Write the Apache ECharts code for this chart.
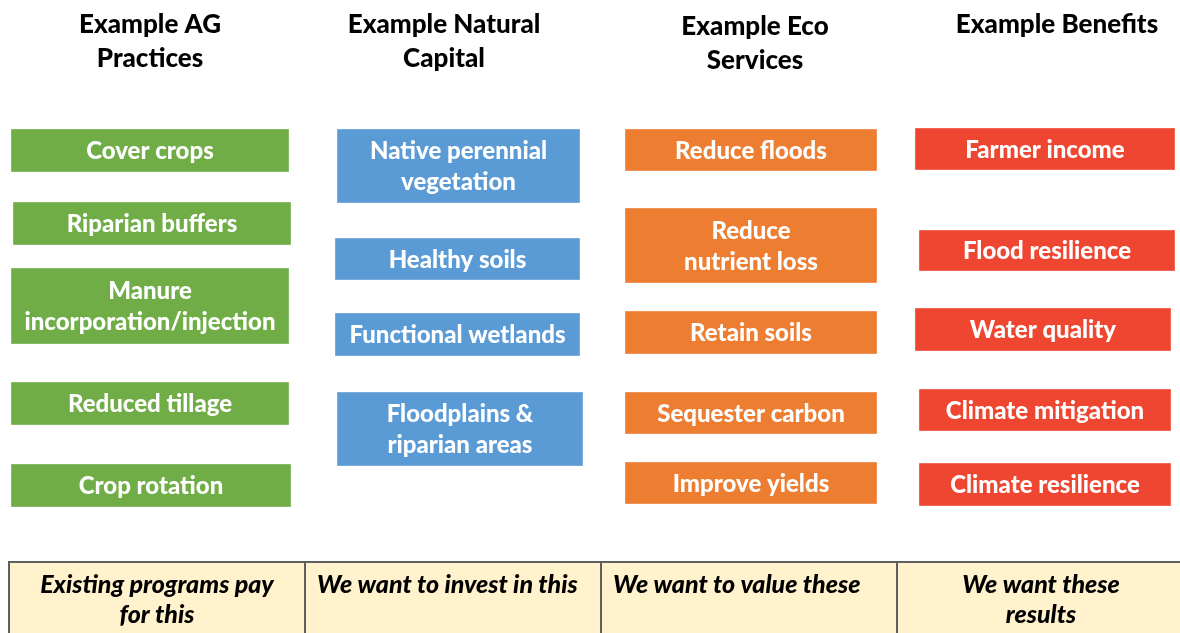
<!DOCTYPE html>
<html>
<head>
<meta charset="utf-8">
<script src="https://cdn.jsdelivr.net/npm/echarts@6/dist/echarts.min.js"></script>
<style>
html,body{margin:0;padding:0;background:#fff;}
#chart{width:1180px;height:633px;}
</style>
</head>
<body>
<div id="chart"></div>
<script>
// ---------- DATA ----------
var headers = ['Example AG\nPractices', 'Example Natural\nCapital', 'Example Eco\nServices', 'Example Benefits'];
var practices = ['Cover crops', 'Riparian buffers', 'Manure\nincorporation/injection', 'Reduced tillage', 'Crop rotation'];
var naturalCapital = ['Native perennial\nvegetation', 'Healthy soils', 'Functional wetlands', 'Floodplains &\nriparian areas'];
var ecoServices = ['Reduce floods', 'Reduce\nnutrient loss', 'Retain soils', 'Sequester carbon', 'Improve yields'];
var benefits = ['Farmer income', 'Flood resilience', 'Water quality', 'Climate mitigation', 'Climate resilience'];
var footer = ['Existing programs pay\nfor this', 'We want to invest in this', 'We want to value these', 'We want these\nresults'];

// box extents: [left, right, top, bottom] on a 1180 x 633 scale
var practiceSpans = [[11,289,129,172],[13,291,202,245],[11,289,268,344],[11,289,382,425],[11,291,464,507]];
var naturalSpans = [[337,580,129,203],[335,580,238,280],[335,580,313,356],[337,583,392,466]];
var ecoSpans = [[625,877,129,171],[625,877,208,283],[625,877,311,354],[625,877,392,434],[625,877,462,504]];
var benefitSpans = [[915,1175,128,170],[919,1175,230,271],[915,1171,308,351],[919,1171,389,431],[919,1171,463,506]];
var footerSpans = [[9,305,562,640],[305,601,562,640],[601,897,562,640],[897,1185,562,640]];

// ---------- LAYOUT / STYLE ----------
var headerAnchors = [[150,8],[444,8],[755,10],[1057,8]];
var footerAlign = ['center','left','left','center'];
var colors = ['#70AD47','#5B9BD5','#ED7D31','#EE4631'];
var FONT = 'Lato, "Open Sans", sans-serif';

function boxSeries(labels, spans, color) {
  return {
    type: 'custom',
    coordinateSystem: 'cartesian2d',
    data: spans,
    silent: true,
    renderItem: function (params, api) {
      var p0 = api.coord([api.value(0), api.value(2)]);
      var p1 = api.coord([api.value(1), api.value(3)]);
      return {
        type: 'group',
        children: [
          { type: 'rect', shape: { x: p0[0], y: p0[1], width: p1[0] - p0[0], height: p1[1] - p0[1] },
            style: { fill: color, stroke: 'rgba(255,255,255,0.35)', lineWidth: 1 } },
          { type: 'text', style: { text: labels[params.dataIndex], x: (p0[0] + p1[0]) / 2, y: (p0[1] + p1[1]) / 2 + 1,
              align: 'center', verticalAlign: 'middle', fill: '#ffffff', font: '900 24px ' + FONT, lineHeight: 31 } }
        ]
      };
    }
  };
}

var footerSeries = {
  type: 'custom',
  coordinateSystem: 'cartesian2d',
  data: footerSpans,
  silent: true,
  renderItem: function (params, api) {
    var p0 = api.coord([api.value(0), api.value(2)]);
    var p1 = api.coord([api.value(1), api.value(3)]);
    var i = params.dataIndex;
    var al = footerAlign[i];
    var tx = al === 'center' ? (p0[0] + p1[0]) / 2 : p0[0] + 12;
    return {
      type: 'group',
      children: [
        { type: 'rect', shape: { x: p0[0], y: p0[1], width: p1[0] - p0[0], height: p1[1] - p0[1] },
          style: { fill: '#FFF2CC', stroke: '#5f5f5f', lineWidth: 2 } },
        { type: 'text', style: { text: footer[i], x: tx, y: p0[1] + 8, align: al, verticalAlign: 'top',
            fill: '#000', font: 'italic 900 25px ' + FONT, lineHeight: 30 } }
      ]
    };
  }
};

var headerSeries = {
  type: 'custom',
  coordinateSystem: 'cartesian2d',
  data: headerAnchors,
  silent: true,
  renderItem: function (params, api) {
    var p = api.coord([api.value(0), api.value(1)]);
    return { type: 'text', style: { text: headers[params.dataIndex], x: p[0], y: p[1], align: 'center', verticalAlign: 'top',
      fill: '#000', font: '900 26px ' + FONT, lineHeight: 34 } };
  }
};

var chart = echarts.init(document.getElementById('chart'), null, { renderer: 'canvas' });
chart.setOption({
  animation: false,
  backgroundColor: '#ffffff',
  grid: { left: 0, right: 0, top: 0, bottom: 0 },
  xAxis: { type: 'value', min: 0, max: 1180, show: false },
  yAxis: { type: 'value', min: 0, max: 633, inverse: true, show: false },
  series: [
    headerSeries,
    boxSeries(practices, practiceSpans, colors[0]),
    boxSeries(naturalCapital, naturalSpans, colors[1]),
    boxSeries(ecoServices, ecoSpans, colors[2]),
    boxSeries(benefits, benefitSpans, colors[3]),
    footerSeries
  ]
});
</script>
</body>
</html>
